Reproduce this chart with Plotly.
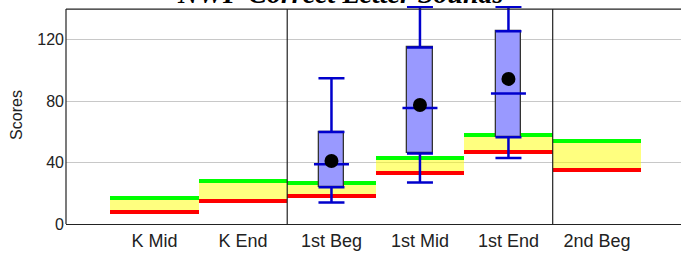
import plotly.graph_objects as go

# ---- data ----
categories = ["K Mid", "K End", "1st Beg", "1st Mid", "1st End", "2nd Beg"]
grades = ["K", "K", "1st", "1st", "1st", "2nd"]
benchmark_low = [8, 15, 18, 33, 47, 35]      # red line
benchmark_high = [17, 28, 27, 43, 58, 54]    # green line

box_categories = ["1st Beg", "1st Mid", "1st End"]
box_low = [14, 27, 43]
box_q1 = [24, 46, 56.5]
box_median = [39, 75.5, 85]
box_q3 = [60, 115, 125.5]
box_high = [95, 141.5, 141.5]
box_mean = [41, 77.5, 94.5]

y_max = 140
y_ticks = [0, 40, 80, 120]
title_text = "NWF Correct Letter Sounds"
y_title = "Scores"

# ---- styling ----
FONT = "Liberation Sans, Arial, sans-serif"
line_thick = 2.6    # band line thickness in data units
box_w = 0.29
BLUE = "#0000CC"

idx = {c: i for i, c in enumerate(categories)}
xs = list(range(len(categories)))
bx = [idx[c] for c in box_categories]

fig = go.Figure()

# yellow band
fig.add_trace(go.Bar(
    x=xs, base=benchmark_low,
    y=[h - l for h, l in zip(benchmark_high, benchmark_low)],
    width=1, marker=dict(color="rgba(255,255,0,0.5)", line=dict(width=0)),
    hoverinfo="skip", showlegend=False))
# green line
fig.add_trace(go.Bar(
    x=xs, base=[h - line_thick / 2 for h in benchmark_high],
    y=[line_thick] * len(xs), width=1,
    marker=dict(color="#00FF00", line=dict(width=0)), showlegend=False))
# red line
fig.add_trace(go.Bar(
    x=xs, base=[l - line_thick / 2 for l in benchmark_low],
    y=[line_thick] * len(xs), width=1,
    marker=dict(color="#FF0000", line=dict(width=0)), showlegend=False))

# box body
fig.add_trace(go.Bar(
    x=bx, base=box_q1, y=[q3 - q1 for q1, q3 in zip(box_q1, box_q3)],
    width=box_w, marker=dict(color="#9999FF", line=dict(color="#333333", width=1.3)),
    showlegend=False))

# upper whiskers
fig.add_trace(go.Scatter(
    x=bx, y=box_q3, mode="markers", marker=dict(size=0.1, color=BLUE, opacity=0),
    error_y=dict(type="data", array=[h - q3 for h, q3 in zip(box_high, box_q3)],
                 arrayminus=[0] * len(bx), color=BLUE, thickness=2.5, width=13),
    showlegend=False))
# lower whiskers
fig.add_trace(go.Scatter(
    x=bx, y=box_q1, mode="markers", marker=dict(size=0.1, color=BLUE, opacity=0),
    error_y=dict(type="data", array=[0] * len(bx),
                 arrayminus=[q1 - l for q1, l in zip(box_q1, box_low)],
                 color=BLUE, thickness=2.5, width=13),
    showlegend=False))
# median
fig.add_trace(go.Scatter(
    x=bx, y=box_median, mode="markers",
    marker=dict(symbol="line-ew", size=25, line=dict(color=BLUE, width=2.5)),
    showlegend=False))
# mean
fig.add_trace(go.Scatter(
    x=bx, y=box_mean, mode="markers",
    marker=dict(symbol="circle", size=14, color="black"),
    showlegend=False))

# frame lines
shapes = [
    dict(type="line", xref="paper", yref="y", x0=0, x1=1, y0=y_max, y1=y_max,
         line=dict(color="#222222", width=1.2)),
    dict(type="line", xref="paper", yref="y", x0=0, x1=0, y0=0, y1=y_max,
         line=dict(color="#222222", width=1.2)),
]
for i in range(1, len(grades)):
    if grades[i] != grades[i - 1]:
        shapes.append(dict(type="line", xref="x", yref="y", x0=i - 0.5, x1=i - 0.5,
                           y0=0, y1=y_max, line=dict(color="#222222", width=1.2)))

fig.update_layout(
    width=681, height=255,
    margin=dict(l=66, r=0, t=6, b=31),
    paper_bgcolor="white", plot_bgcolor="white",
    barmode="overlay", bargap=0,
    showlegend=False,
    shapes=shapes,
    font=dict(family=FONT, color="#222222"),
    annotations=[dict(
        text=title_text, xref="paper", yref="paper", x=(340 - 66) / 615, y=1,
        xanchor="center", yanchor="bottom", yshift=-5, showarrow=False,
        font=dict(family="Liberation Serif, Times New Roman, serif", size=28,
                  color="black", weight="bold", style="italic"))],
)
fig.update_xaxes(
    range=[-1, 5.95], tickvals=xs, ticktext=categories,
    showline=True, linecolor="#222222", linewidth=1.2,
    showgrid=False, zeroline=False, ticks="",
    tickfont=dict(size=18, family=FONT, color="#222222"))
fig.update_yaxes(
    range=[0, y_max + 2], tickvals=y_ticks,
    showline=False, showgrid=True, gridcolor="#C8C8C8", gridwidth=1,
    zeroline=False, ticks="", ticklabelstandoff=1,
    tickfont=dict(size=16, family=FONT, color="#222222"),
    title=dict(text=y_title, font=dict(size=16, family=FONT, color="#222222"),
               standoff=10))

fig.write_html("out.html", config={"displayModeBar": False},
               post_script="document.body.style.margin='0px';document.body.style.overflow='hidden';")
